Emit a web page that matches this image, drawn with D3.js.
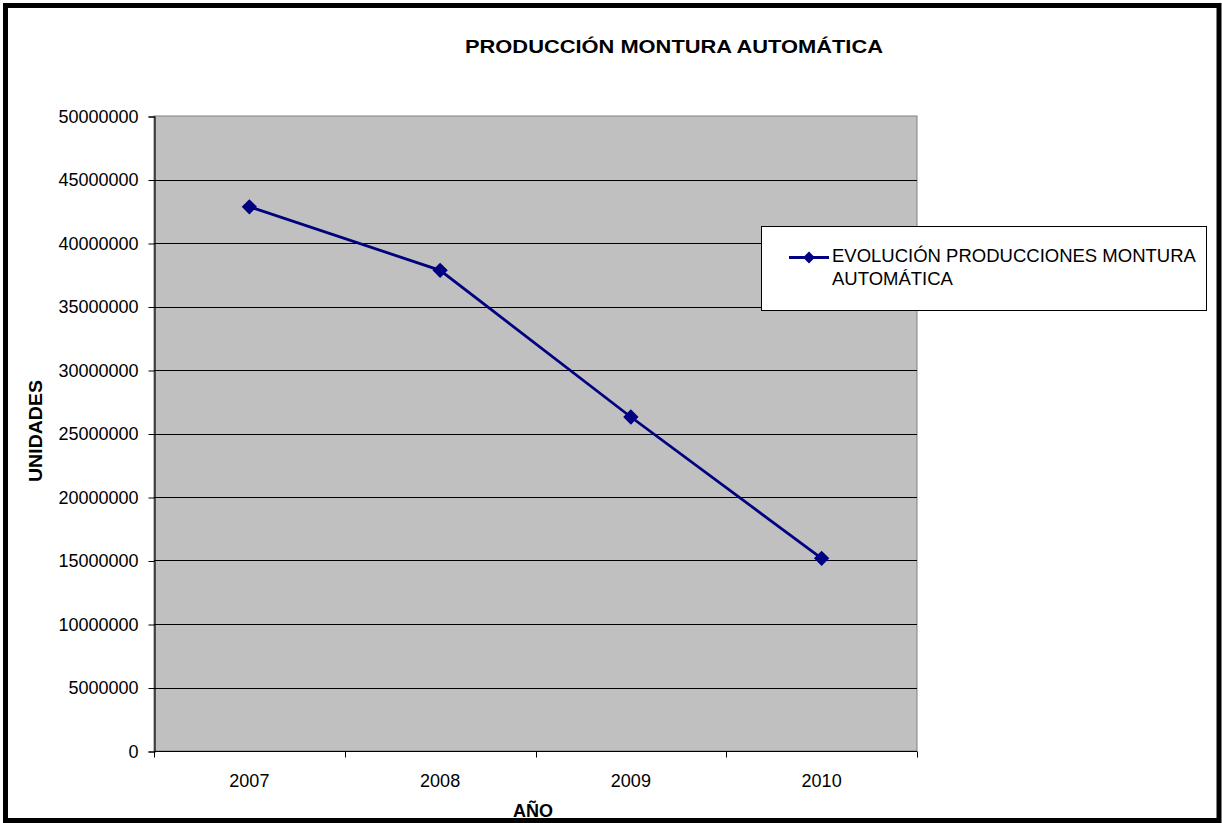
<!DOCTYPE html>
<html>
<head>
<meta charset="utf-8">
<script src="https://cdn.jsdelivr.net/npm/d3@7"></script>
<style>
  html, body { margin: 0; padding: 0; background: #fff; }
  svg { display: block; }
  text { font-family: Arial, "Liberation Sans", sans-serif; fill: #000; }
</style>
</head>
<body>
<svg id="chart" width="1222" height="823"></svg>
<script>
// Production figures per year
const years = ["2007", "2008", "2009", "2010"];
const unidades = [42850000, 37850000, 26300000, 15170000];
const yTicks = [0, 5000000, 10000000, 15000000, 20000000, 25000000, 30000000, 35000000, 40000000, 45000000, 50000000];
const chartTitle = "PRODUCCIÓN MONTURA AUTOMÁTICA";
const yTitle = "UNIDADES";
const xTitle = "AÑO";
const seriesName = ["EVOLUCIÓN PRODUCCIONES MONTURA", "AUTOMÁTICA"];

const svg = d3.select("#chart");
const W = 1222, H = 823;

// Plot area
const plot = { left: 154, top: 116, right: 917, bottom: 751 };

const x = d3.scaleBand().domain(years).range([plot.left, plot.right]).padding(0);
const y = d3.scaleLinear().domain([0, 50000000]).range([plot.bottom, plot.top]);

// Outer frame
svg.append("rect")
  .attr("x", 0).attr("y", 0).attr("width", W).attr("height", H)
  .attr("fill", "#fff");
svg.append("rect")
  .attr("x", 5.5).attr("y", 5.5).attr("width", 1213.5).attr("height", 815)
  .attr("fill", "none").attr("stroke", "#000").attr("stroke-width", 5);

// Plot background
svg.append("rect")
  .attr("x", plot.left).attr("y", plot.top)
  .attr("width", plot.right - plot.left).attr("height", plot.bottom - plot.top)
  .attr("fill", "#c0c0c0")
  .attr("stroke", "#808080").attr("stroke-width", 1);

// Horizontal gridlines
svg.append("g")
  .selectAll("line")
  .data(yTicks.filter(d => d > 0 && d < 50000000))
  .join("line")
  .attr("x1", plot.left).attr("x2", plot.right)
  .attr("y1", d => Math.round(y(d)) + 0.5).attr("y2", d => Math.round(y(d)) + 0.5)
  .attr("stroke", "#000").attr("stroke-width", 1);

// Y axis
const yAxis = d3.axisLeft(y).tickValues(yTicks).tickFormat(d3.format("d")).tickSize(6).tickPadding(10);
const gy = svg.append("g").attr("transform", `translate(${plot.left + 0.5},0.5)`).call(yAxis);
gy.select(".domain").attr("stroke", "#000").attr("stroke-width", 1.2);
gy.selectAll(".tick line").attr("stroke", "#000");
gy.selectAll(".tick text").attr("font-size", 18).attr("fill", "#111")
  .attr("font-family", "Arial, 'Liberation Sans', sans-serif");

// X axis: ticks sit on category boundaries, labels centred in each band
const xAxisG = svg.append("g").attr("transform", `translate(0,${plot.bottom + 0.5})`);
xAxisG.append("line")
  .attr("x1", plot.left).attr("x2", plot.right).attr("y1", 0).attr("y2", 0)
  .attr("stroke", "#000").attr("stroke-width", 1.2);
const boundaries = years.map(d => x(d)).concat([x(years[years.length - 1]) + x.bandwidth()]);
xAxisG.selectAll("line.tick")
  .data(boundaries)
  .join("line").attr("class", "tick")
  .attr("x1", d => Math.round(d) + 0.5).attr("x2", d => Math.round(d) + 0.5)
  .attr("y1", 0).attr("y2", 6)
  .attr("stroke", "#000");
xAxisG.selectAll("text")
  .data(years)
  .join("text")
  .attr("x", d => x(d) + x.bandwidth() / 2)
  .attr("y", 35)
  .attr("text-anchor", "middle")
  .attr("font-size", 18)
  .attr("fill", "#111")
  .text(d => d);

// Series line
const cx = d => x(d) + x.bandwidth() / 2;
const navy = "#000080";
svg.append("path")
  .datum(years.map((d, i) => [cx(d), y(unidades[i])]))
  .attr("fill", "none").attr("stroke", navy).attr("stroke-width", 2.8)
  .attr("d", d3.line());

// Diamond markers
const diamond = d3.symbol().type(d3.symbolDiamond2).size(150);
svg.append("g")
  .selectAll("path")
  .data(years)
  .join("path")
  .attr("transform", (d, i) => `translate(${cx(d)},${y(unidades[i])})`)
  .attr("d", diamond)
  .attr("fill", navy);

// Titles
svg.append("text")
  .attr("x", 674).attr("y", 53)
  .attr("text-anchor", "middle")
  .attr("font-size", 18).attr("font-weight", "bold")
  .attr("textLength", 418).attr("lengthAdjust", "spacingAndGlyphs")
  .text(chartTitle);

svg.append("text")
  .attr("transform", "translate(42,431) rotate(-90)")
  .attr("text-anchor", "middle")
  .attr("font-size", 18).attr("font-weight", "bold")
  .attr("textLength", 102).attr("lengthAdjust", "spacingAndGlyphs")
  .text(yTitle);

svg.append("text")
  .attr("x", 533).attr("y", 817)
  .attr("text-anchor", "middle")
  .attr("font-size", 18).attr("font-weight", "bold")
  .text(xTitle);

// Legend
const legend = svg.append("g");
legend.append("rect")
  .attr("x", 761.5).attr("y", 226.5).attr("width", 445).attr("height", 84)
  .attr("fill", "#fff").attr("stroke", "#000").attr("stroke-width", 1);
legend.append("line")
  .attr("x1", 789).attr("x2", 829).attr("y1", 257.5).attr("y2", 257.5)
  .attr("stroke", navy).attr("stroke-width", 2.8);
legend.append("path")
  .attr("transform", "translate(809,257.5)")
  .attr("d", d3.symbol().type(d3.symbolDiamond2).size(90))
  .attr("fill", navy);
legend.selectAll("text")
  .data(seriesName)
  .join("text")
  .attr("x", 832)
  .attr("y", (d, i) => 262 + i * 23)
  .attr("font-size", 18.5)
  .attr("fill", "#111")
  .text(d => d);
</script>
</body>
</html>
